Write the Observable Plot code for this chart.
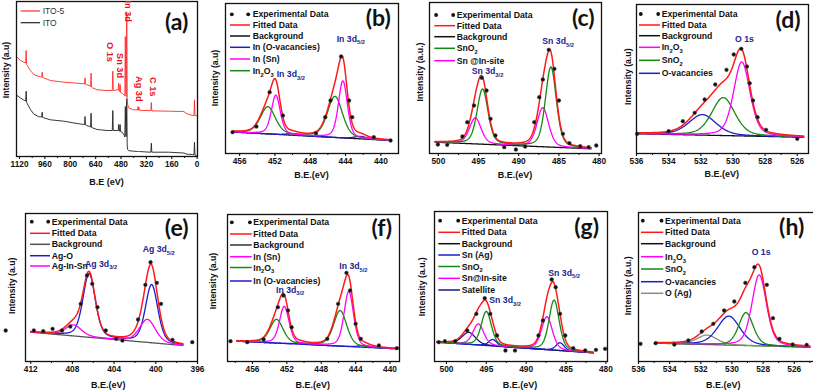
<!DOCTYPE html>
<html><head><meta charset="utf-8">
<script src="https://cdn.jsdelivr.net/npm/d3@7"></script>
<script src="https://cdn.jsdelivr.net/npm/@observablehq/plot@0.6"></script>
<style>
body{margin:0;background:#fff}
#root{position:relative;width:813px;height:392px;overflow:hidden;background:#fff}
#root svg{position:absolute}
</style></head><body><div id="root"></div>
<script>
// ---------- (a) survey spectra ----------
const surveyBE = [1135,1114,1093,1081,1078,1075,1051,1030,999,980,977,974,967,925,841,757,715,710,707,704,698,677,672,669,666,660,631,568,535,532,529,504,498,495,492,489,486,483,473,459,456,453,450,447,444,441,438,432,401,376,373,370,367,364,316,292,289,286,180,85,64,29,20,17,14,4,-2];
const surveyITO5 = [99.3,96,94.3,93.5,106,92,86,82,80,79.5,84.3,79,78.7,76,74.3,73.3,72.7,72.5,78.7,72.3,72,70.7,70,83.3,69.5,68.7,66.7,66,66,85.3,66,66.7,66.5,73.3,65.5,65,72,64,63.3,61,60.5,120,62,60,144.3,56,52,48.7,46.7,46.5,50,46.3,49,46.2,46,45.8,54,45.6,45.3,45,42.7,41,41,56.7,41,41,40];
const surveyITO = [61,58.5,56.5,55.5,65.3,54,47,42.5,39.8,39.5,44.3,39,38.7,36.7,35.3,33,32,31.8,40,31.5,31,30,29.5,43.3,29,28.7,27,26,26,46,26,26,25.8,32,25.5,25.3,32,25,24.3,21,19.5,50,22,20,57.7,9.5,7,5.8,5.3,5,5.2,5,5.1,5,4.5,4.3,13.3,4.3,4.3,3.5,2.3,2,1.8,14.3,1.5,1,0.7];
const surveyTicks = [1120,960,800,640,480,320,160,0];

// ---------- (b) In 3d, ITO ----------
const bExpBE = [456.8,454.1,452.6,451.1,447.35,446.3,445.7,444.5,443.6,443.25,440.8,438.9];
const bExpI  = [21.3,27,61.3,38,20.3,36.3,53,97,53,36.3,16.3,13];
const bBg = [[456.8,21.5],[438.8,13]];
const bInOvac = [[450.0,1.5,1.6],[442.3,2.5,1.6]];
const bInSn   = [[451.9,39,1.2],[444.3,57,1.2]];
const bIn2O3  = [[452.8,27,2.0],[445.2,41,2.0]];

// ---------- (c) Sn 3d, ITO ----------
const cExpBE = [500.06,498.9,497.0,496.4,495.56,494.6,494.0,493.5,492.9,491.8,490.35,489.2,488.06,487.44,487.0,486.26,485.56,485.0,484.5,483.7,482.35,481.3,480.35];
const cExpI  = [9,8.7,17,31.3,48,75.7,63,34.7,18,6.3,4,7,31.3,56.3,74,103.7,84.7,53,19.7,10.3,7.3,6.3,8];
const cBg = [[500.4,11.3],[481,4.7]];
const cSnO2 = [[494.5,55,1.6],[486.0,80,1.6]];
const cSnIn = [[495.4,26,1.7],[487.0,39,1.7]];

// ---------- (d) O 1s, ITO ----------
const dExpBE = [535.96,534.0,533.12,532.38,531.76,531.1,530.4,529.95,529.48,529.13,528.96,528.75,528.47,527.94,526.0];
const dExpI  = [19.7,22.3,32.3,40.7,54,69,83.7,99,104.7,87,70.3,53,36.3,23.7,14.7];
const dBg = [[535.9,19.7],[525.6,16.3]];
const dIn2O3 = [[529.45,74,1.2]];
const dSnO2  = [[530.6,38,1.7]];
const dOvac  = [[531.9,20.5,2.0]];

// ---------- (e) Ag 3d, ITO-5 ----------
const eExpBE = [414.4,411.7,410.8,409.9,409.0,408.2,407.2,406.6,406.1,405.6,404.8,403.8,403.2,401.7,401.0,400.5,399.9,399.5,398.4,396.5];
const eExpI  = [31,31,30.3,32.7,31,35,57.7,86,77.7,54.3,31,22.7,21,42,76.7,99.3,78.7,57.7,21.7,19.3];
const eBg = [[412.0,29.3],[397.4,16]];
const eAgO    = [[406.4,63.5,1.4],[400.4,58,1.4]];
const eAgInSn = [[407.9,11,1.8],[400.8,23,1.8]];

// ---------- (f) In 3d, ITO-5 ----------
const fExpBE = [458.55,456.6,454.7,453.04,452.4,451.87,451.44,447.3,446.04,445.07,444.65,444.0,443.4,441.3,439.2];
const fExpI  = [20.3,19.3,22,54.3,66,51,34.3,22.7,57.7,88.7,71,37.7,22.7,16,13.3];
const fBg = [[457.8,20.3],[439.3,12.7]];
const fInSn   = [[452.3,37,1.3],[444.8,55,1.3]];
const fIn2O3  = [[453.2,23.6,1.8],[445.8,35.5,1.8]];
const fInOvac = [[450.5,1,1.5],[443.0,1.8,1.5]];

// ---------- (g) Sn 3d, ITO-5 ----------
const gExpBE = [500.96,500.2,498.9,497.4,496.25,495.2,494.5,493.66,492.6,491.4,488.46,487.9,486.8,486.3,485.75,485.1,484.1,482.6,481.25,480.1];
const gExpI  = [19.3,20.3,20.3,31,47.7,63.3,47.7,26,11,11,26,41,82,74.3,47.7,26,13.3,11,11.7,12.7];
const gBg = [[501.2,19.3],[481.6,8.7]];
const gSnAg = [[494.2,6.5,1.2],[485.75,7.8,1.2]];
const gSnO2 = [[495.0,34,1.5],[486.5,50,1.5]];
const gSnIn = [[496.0,21,1.6],[487.4,33,1.6]];
const gSat  = [[497.2,12,2.0]];

// ---------- (h) O 1s, ITO-5 ----------
const hExpBE = [535.87,534.9,533.7,532.8,531.94,531.2,530.5,529.85,529.14,528.56,527.76,527.37,526.95,526.1,525.2];
const hExpI  = [17.7,18.3,17,21,30,37.7,51,60,78.7,94.3,76.7,43.3,22.7,17,16.7];
const hBg = [[534.9,18.3],[525.0,14.3]];
const hIn2O3 = [[528.25,71,1.1]];
const hSnO2  = [[529.1,33,1.1]];
const hOvac  = [[530.2,29,1.7]];
const hOAg   = [[531.6,9.5,1.5]];

// ---------- styling ----------
const FONT = '"Liberation Sans", Arial, Helvetica, sans-serif';
const RED="#ff1a1a", GREEN="#138a13", MAG="#ff00ff", BLUE="#1c1cd0", NAVY="#1a1a78", GRAY="#8c8c7a", BLACK="#111111", ANNOT="#23238f", SURVRED="#ff2a2a";
const ETA = 0.35;

function pv(x,[c,h,w]){const t=(x-c)/w;return h*((1-ETA)*Math.exp(-4*Math.LN2*t*t)+ETA/(1+4*t*t));}
function bgFn(bg){const [[x0,y0],[x1,y1]]=bg;return x=>y0+(y1-y0)*(x-x0)/(x1-x0);}
function xgrid(bg){const a=bg[0][0],b=bg[1][0];const n=Math.round(Math.abs(a-b)/0.04);return d3.range(n+1).map(i=>a+(b-a)*i/n);}
function series(bg,peakSets){const f=bgFn(bg);return xgrid(bg).map(x=>({x,y:f(x)+d3.sum(peakSets.flat(),p=>pv(x,p))}));}

const root=document.getElementById("root");

function makePanel(p){
  const [x0,y0,x1,y1]=p.frame;
  const mL=p.mL, mR=p.mR, mT=p.mT, mB=32;
  const H=y1-y0, W=x1-x0;
  const marks=[];
  if(p.survey){
    marks.push(Plot.line(surveyBE,{x:surveyBE,y:surveyITO,stroke:"#222",strokeWidth:0.9}));
    marks.push(Plot.line(surveyBE,{x:surveyBE,y:surveyITO5,stroke:SURVRED,strokeWidth:0.9}));
  } else {
    marks.push(Plot.line(series(p.bg,[]),{x:"x",y:"y",stroke:p.bgColor||BLACK,strokeWidth:1.3}));
    for(const c of p.comps) marks.push(Plot.line(series(p.bg,[c.peaks]),{x:"x",y:"y",stroke:c.color,strokeWidth:1.3}));
    marks.push(Plot.line(series(p.bg,p.comps.map(c=>c.peaks)),{x:"x",y:"y",stroke:RED,strokeWidth:1.5}));
    marks.push(Plot.dot(p.expBE,{x:p.expBE,y:p.expI,r:1.9,fill:"#111",stroke:"#555",strokeWidth:0.4}));
  }
  marks.push(Plot.ruleX(p.minor,{y1:0,y2:-2,stroke:"#111",strokeWidth:1}));
  marks.push(Plot.axisX(p.ticks,{anchor:"bottom",tickSize:3,tickPadding:2,label:null,tickFormat:d=>String(d),fontSize:8.3,fontWeight:"bold",strokeWidth:1.1}));
  marks.push(Plot.frame({stroke:"#111",strokeWidth:1.3}));
  const svg=Plot.plot({width:W+mL+mR,height:H+mT+mB,marginLeft:mL,marginRight:mR,marginTop:mT,marginBottom:mB,
    x:{domain:p.xDomain,axis:null},y:{domain:[0,H],axis:null},
    style:{fontFamily:FONT,fontSize:"8px",fontWeight:"bold",overflow:"visible",background:"transparent",color:"#111",maxWidth:"none"},
    marks});
  svg.style.left=(x0-mL)+"px"; svg.style.top=(y0-mT)+"px";
  root.appendChild(svg);
}

const panels=[
 {survey:true,frame:[16,1,197,156],xDomain:[1138.9,-2],ticks:surveyTicks,minor:[1040,880,720,560,400,240,80],mL:16,mR:10,mT:1},
 {frame:[225,3,398,153],xDomain:[457.6,438],ticks:[456,452,448,444,440],minor:[454,450,446,442],mL:20,mR:8,mT:3,
  bg:bBg,expBE:bExpBE,expI:bExpI,comps:[{peaks:bInOvac,color:BLUE},{peaks:bIn2O3,color:GREEN},{peaks:bInSn,color:MAG}]},
 {frame:[429,2,601,153],xDomain:[501.1,479.7],ticks:[500,495,490,485,480],minor:[497.5,492.5,487.5,482.5],mL:20,mR:8,mT:2,
  bg:cBg,expBE:cExpBE,expI:cExpI,comps:[{peaks:cSnIn,color:MAG},{peaks:cSnO2,color:GREEN}]},
 {frame:[636,4,808,153],xDomain:[536,525.3],ticks:[536,534,532,530,528,526],minor:[535,533,531,529,527],mL:20,mR:5,mT:4,
  bg:dBg,expBE:dExpBE,expI:dExpI,comps:[{peaks:dOvac,color:BLUE},{peaks:dSnO2,color:GREEN},{peaks:dIn2O3,color:MAG}]},
 {frame:[25,213,197,361],xDomain:[412.5,396],ticks:[412,408,404,400,396],minor:[410,406,402,398],mL:25,mR:8,mT:18,bgColor:"#555",
  bg:eBg,expBE:eExpBE,expI:eExpI,comps:[{peaks:eAgO,color:BLUE},{peaks:eAgInSn,color:MAG}]},
 {frame:[227,214,399,361],xDomain:[458.9,438.9],ticks:[456,452,448,444,440],minor:[458,454,450,446,442],mL:20,mR:8,mT:19,bgColor:BLUE,
  bg:fBg,expBE:fExpBE,expI:fExpI,comps:[{peaks:fInOvac,color:BLUE},{peaks:fIn2O3,color:GREEN},{peaks:fInSn,color:MAG}]},
 {frame:[434,211,607,361],xDomain:[501.5,479.8],ticks:[500,495,490,485,480],minor:[497.5,492.5,487.5,482.5],mL:20,mR:6,mT:16,bgColor:BLUE,
  bg:gBg,expBE:gExpBE,expI:gExpI,comps:[{peaks:gSat,color:NAVY},{peaks:gSnAg,color:BLUE},{peaks:gSnIn,color:MAG},{peaks:gSnO2,color:GREEN}]},
 {frame:[638,212,814,361],xDomain:[536,524.7],ticks:[536,534,532,530,528,526],minor:[535,533,531,529,527,525],mL:20,mR:2,mT:17,bgColor:GREEN,
  bg:hBg,expBE:hExpBE,expI:hExpI,comps:[{peaks:hOAg,color:GRAY},{peaks:hOvac,color:BLUE},{peaks:hSnO2,color:GREEN},{peaks:hIn2O3,color:MAG}]}
];
panels.forEach(makePanel);

// ---------- overlay: legends, titles, annotations ----------
const ov=d3.select(root).append("svg").attr("width",813).attr("height",392).style("left","0px").style("top","0px")
  .attr("font-family",FONT).attr("font-weight","bold").style("pointer-events","none");

function rich(t,s,fs){
  const parts=[];const re=/_\{([^}]*)\}|_(.)/g;let last=0,m;
  while((m=re.exec(s))){if(m.index>last)parts.push([s.slice(last,m.index),false]);parts.push([m[1]??m[2],true]);last=re.lastIndex;}
  if(last<s.length)parts.push([s.slice(last),false]);
  let off=0;
  for(const [txt,sub] of parts){const target=sub?fs*0.32:0;t.append("tspan").attr("dy",target-off).attr("font-size",sub?fs*0.66:fs).text(txt);off=target;}
  return t;
}
function legend(x0,x1,tx,ys,items){
  items.forEach(([label,color],i)=>{
    const y=ys[i];
    if(color==="exp"){
      [x0+1.8,x1-1.8].forEach(cx=>ov.append("circle").attr("cx",cx).attr("cy",y).attr("r",1.9).attr("fill","#111"));
    } else {
      ov.append("line").attr("x1",x0).attr("x2",x1).attr("y1",y).attr("y2",y).attr("stroke",color).attr("stroke-width",1.5);
    }
    rich(ov.append("text").attr("x",tx).attr("y",y+3.1).attr("fill","#111"),label,8.7);
  });
}
const EXP="exp";
legend(230,250,252.7,[14.3,25,36,47.3,59,70.7],[["Experimental Data",EXP],["Fitted Data",RED],["Background",BLACK],["In (O-vacancies)",BLUE],["In (Sn)",MAG],["In_2O_3",GREEN]]);
legend(434.3,455,456.7,[15,25.7,36.7,48.3,60.7],[["Experimental Data",EXP],["Fitted Data",RED],["Background",BLACK],["SnO_2",GREEN],["Sn @In-site",MAG]]);
legend(639,660,661.7,[14,25,35.7,47.3,60.3,73.3],[["Experimental Data",EXP],["Fitted Data",RED],["Background",BLACK],["In_2O_3",MAG],["SnO_2",GREEN],["O-vacancies",BLUE]]);
legend(30,50,51.7,[221.7,233.3,244.3,255.7,266],[["Experimental Data",EXP],["Fitted Data",RED],["Background","#555"],["Ag-O",BLUE],["Ag-In-Sn",MAG]]);
legend(230,251.7,253.3,[222.3,234,245,256.7,267.5,281],[["Experimental Data",EXP],["Fitted Data",RED],["Background","#333"],["In (Sn)",MAG],["In_2O_3",GREEN],["In (O-vacancies)",BLUE]]);
legend(438.3,460,461.7,[220.7,232.3,243.7,255,266.5,278.3,290],[["Experimental Data",EXP],["Fitted Data",RED],["Background",BLACK],["Sn (Ag)",BLUE],["SnO_2",GREEN],["Sn@In-site",MAG],["Satellite",NAVY]]);
legend(641,663.3,665,[220.7,232.3,243.7,256.7,269,281.7,293.3],[["Experimental Data",EXP],["Fitted Data",RED],["Background",BLACK],["In_2O_3",MAG],["SnO_2",GREEN],["O-vacancies",BLUE],["O (Ag)",GRAY]]);

// survey legend
ov.append("line").attr("x1",20.7).attr("x2",40).attr("y1",11).attr("y2",11).attr("stroke",SURVRED).attr("stroke-width",1.2);
ov.append("text").attr("x",42.7).attr("y",14).attr("font-size",8.5).attr("font-weight","normal").attr("fill","#333").text("ITO-5");
ov.append("line").attr("x1",20.7).attr("x2",40).attr("y1",22.7).attr("y2",22.7).attr("stroke","#222").attr("stroke-width",1.2);
ov.append("text").attr("x",42.7).attr("y",25.7).attr("font-size",8.5).attr("font-weight","normal").attr("fill","#333").text("ITO");

// survey peak labels (vertical, red)
[["O 1s",107,42],["Sn 3d",117,53],["In 3d",124.5,0.5],["Ag 3d",135.5,76],["C 1s",149.5,77]].forEach(([s,x,y])=>{
  ov.append("text").attr("transform",`translate(${x},${y}) rotate(90)`).attr("font-size",9.2).attr("fill","#e8141e").attr("text-anchor","start").text(s);
});

// peak annotations
[["In 3d_{5/2}",336.7,41.5],["In 3d_{3/2}",276.7,77],["Sn 3d_{5/2}",542.3,44],["Sn 3d_{3/2}",471.7,74.3],["O 1s",735,41.6],
 ["Ag 3d_{5/2}",142.7,252],["Ag 3d_{3/2}",85,266.5],["In 3d_{5/2}",339.3,269],["In 3d_{3/2}",276,292.5],
 ["Sn 3d_{5/2}",548.3,275.5],["Sn 3d_{3/2}",489.3,303],["O 1s",751.7,255]].forEach(([s,x,y])=>{
  rich(ov.append("text").attr("x",x).attr("y",y).attr("fill",ANNOT),s,8.7);
});

// panel letters
[["(a)",176.7,21.7],["(b)",378.3,18.3],["(c)",583.3,18],["(d)",788,20],["(e)",176.7,228],["(f)",381.7,228],["(g)",586.7,226.7],["(h)",791.7,226.7]].forEach(([s,x,y])=>{
  ov.append("text").attr("x",x).attr("y",y).attr("dy","0.35em").attr("text-anchor","middle").attr("font-family",'Lato, "Open Sans", sans-serif').attr("font-weight",700).attr("font-size",23).attr("fill","#111").text(s);
});

// x-axis titles
[["B.E (eV)",106.5,185],["B.E.(eV)",311.5,178],["B.E.(eV)",515,178],["B.E.(eV)",721.7,177],["B.E.(eV)",108.3,388],["B.E.(eV)",312.7,387.5],["B.E.(eV)",520,388],["B.E.(eV)",723.3,388]].forEach(([s,x,y])=>{
  ov.append("text").attr("x",x).attr("y",y).attr("text-anchor","middle").attr("font-size",9).attr("fill","#111").text(s);
});
// y-axis titles
[["Intensity (a.u)",6,70],["Intensity (a.u)",215,78],["Intensity (a.u.)",420,72],["Intensity (a.u)",628.3,76.7],
 ["Intensity (a.u)",11.7,285.8],["Intensity (a.u)",213.3,281],["Intensity (a.u.)",422.3,286.7],["Intensity (a.u.)",627.7,285.8]].forEach(([s,x,y])=>{
  ov.append("text").attr("transform",`translate(${x},${y}) rotate(-90)`).attr("dy","0.35em").attr("text-anchor","middle").attr("font-size",8.7).attr("fill","#111").text(s);
});
</script></body></html>
